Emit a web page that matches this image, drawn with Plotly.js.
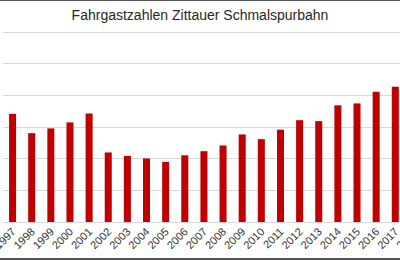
<!DOCTYPE html>
<html>
<head>
<meta charset="utf-8">
<script src="https://cdn.plot.ly/plotly-3.0.1.min.js"></script>
<style>
  html, body { margin: 0; padding: 0; overflow: hidden; background: #fff; }
  #frame { width: 400px; height: 257px; overflow: hidden; border-top: 1px solid #555; border-bottom: 2px solid #555; }
  #chart { width: 430px; height: 257px; }
</style>
</head>
<body>
<div id="frame"><div id="chart"></div></div>
<script>
const years = ["1997","1998","1999","2000","2001","2002","2003","2004","2005","2006","2007",
               "2008","2009","2010","2011","2012","2013","2014","2015","2016","2017","2018"];
const passengers = [171000,140500,148000,157500,171500,110000,104500,100500,95000,105500,112000,
                    121000,138500,131000,146000,161000,159500,184500,187500,206000,214000,222000];
const chartTitle = "Fahrgastzahlen Zittauer Schmalspurbahn";

const trace = {
  type: "bar",
  x: years,
  y: passengers,
  marker: { color: "#c00000", line: { width: 0 } },
  hoverinfo: "x+y"
};

const layout = {
  width: 430,
  height: 257,
  margin: { l: 3.1, r: 6, t: 30, b: 35.7, pad: 0 },
  paper_bgcolor: "#fff",
  plot_bgcolor: "#fff",
  bargap: 0.633,
  showlegend: false,
  title: {
    text: chartTitle,
    font: { family: "Liberation Sans, Arial, sans-serif", size: 14, color: "#262626" },
    x: 200 / 430,
    xanchor: "center",
    xref: "container",
    y: 1 - 14 / 257,
    yanchor: "middle",
    yref: "container"
  },
  xaxis: {
    type: "category",
    range: [-0.5, 21.5],
    tickangle: -45,
    tickfont: { family: "Liberation Sans, Arial, sans-serif", size: 11, color: "#333" },
    showgrid: false,
    showline: false,
    zeroline: false,
    ticks: ""
  },
  yaxis: {
    range: [0, 302000],
    tick0: 0,
    dtick: 50000,
    showticklabels: false,
    showgrid: true,
    gridcolor: "#d9d9d9",
    gridwidth: 1,
    zeroline: true,
    zerolinecolor: "#d9d9d9",
    zerolinewidth: 1,
    showline: false,
    ticks: ""
  }
};

Plotly.newPlot("chart", [trace], layout, { staticPlot: true, displayModeBar: false });
</script>
</body>
</html>
